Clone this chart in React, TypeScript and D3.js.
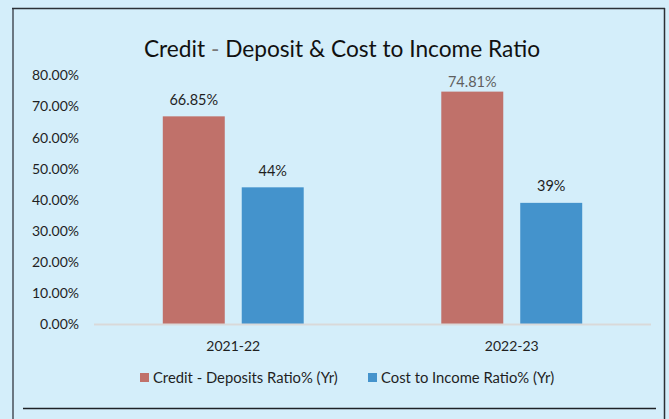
import React, { useEffect, useRef } from 'react';
import * as d3 from 'd3';

const categories = ['2021-22', '2022-23'];
const seriesNames = ['Credit - Deposits Ratio% (Yr)', 'Cost to Income Ratio% (Yr)'];
const creditDeposit = [0.6685, 0.7481];
const costIncome = [0.44, 0.39];
const valueLabels = [
  ['66.85%', '74.81%'],
  ['44%', '39%'],
];
const yTicks = [0, 0.1, 0.2, 0.3, 0.4, 0.5, 0.6, 0.7, 0.8];

const colors = ['#c0716a', '#4493cc'];
const labelColors = [
  ['#1f1f1f', '#5f5f5f'],
  ['#1f1f1f', '#1f1f1f'],
];

const FONT = 'Lato, "Open Sans", sans-serif';

const App: React.FC = () => {
  const svgRef = useRef<SVGSVGElement>(null);

  useEffect(() => {
    if (!svgRef.current) return;
    const width = 669;
    const height = 419;
    const plot = { left: 94, right: 651, top: 75.5, bottom: 324 };

    const svg = d3.select(svgRef.current).attr('width', width).attr('height', height);
    svg.selectAll('*').remove();

    svg.append('rect').attr('width', width).attr('height', height).attr('fill', '#d4eefa');

    // frame
    svg.append('line').attr('x1', 13).attr('x2', 13).attr('y1', 8).attr('y2', height)
      .attr('stroke', '#6b7781').attr('stroke-width', 2);
    svg.append('line').attr('x1', 12).attr('x2', 665).attr('y1', 8.5).attr('y2', 8.5)
      .attr('stroke', '#2b3036').attr('stroke-width', 1.5);
    svg.append('line').attr('x1', 664.5).attr('x2', 664.5).attr('y1', 8).attr('y2', height)
      .attr('stroke', '#2b3036').attr('stroke-width', 1.5);
    svg.append('line').attr('x1', 23).attr('x2', 656).attr('y1', 408.5).attr('y2', 408.5)
      .attr('stroke', '#1e2226').attr('stroke-width', 1.3);

    // title
    const title = svg.append('text').attr('x', 342).attr('y', 57).attr('text-anchor', 'middle')
      .attr('font-family', FONT).attr('font-size', 22.7).attr('fill', '#111');
    title.append('tspan').text('Credit ');
    title.append('tspan').attr('fill', '#7a7a7a').text('-');
    title.append('tspan').text(' Deposit & Cost to Income Ratio');

    const y = d3.scaleLinear().domain([0, 0.8]).range([plot.bottom, plot.top]);
    const x0 = d3.scaleBand().domain(categories).range([plot.left, plot.right])
      .paddingInner(0.494).paddingOuter(0.247);
    const x1 = d3.scaleBand().domain(['0', '1']).range([0, x0.bandwidth()])
      .paddingInner(0.215).paddingOuter(0);

    // y tick labels
    svg.append('g').selectAll('text').data(yTicks).enter().append('text')
      .attr('x', 79).attr('y', (d) => y(d)).attr('dy', '0.35em').attr('text-anchor', 'end')
      .attr('font-family', FONT).attr('font-size', 14).attr('fill', '#1f1f1f')
      .text((d) => d3.format('.2%')(d));

    const series = [creditDeposit, costIncome];
    series.forEach((vals, si) => {
      const g = svg.append('g');
      g.selectAll('rect').data(vals).enter().append('rect')
        .attr('x', (_, i) => (x0(categories[i]) ?? 0) + (x1(String(si)) ?? 0))
        .attr('y', (d) => y(d))
        .attr('width', x1.bandwidth())
        .attr('height', (d) => y(0) - y(d))
        .attr('fill', colors[si]);
      g.selectAll('text').data(vals).enter().append('text')
        .attr('x', (_, i) => (x0(categories[i]) ?? 0) + (x1(String(si)) ?? 0) + x1.bandwidth() / 2)
        .attr('y', (d) => Math.max(y(d) - 16.5, 82))
        .attr('dy', '0.35em')
        .attr('text-anchor', 'middle')
        .attr('font-family', FONT).attr('font-size', 14.5)
        .attr('fill', (_, i) => labelColors[si][i])
        .text((_, i) => valueLabels[si][i]);
    });

    // x axis line
    svg.append('line').attr('x1', plot.left).attr('x2', plot.right)
      .attr('y1', y(0) + 0.5).attr('y2', y(0) + 0.5)
      .attr('stroke', '#d9d9d9').attr('stroke-width', 2);

    svg.append('g').selectAll('text').data(categories).enter().append('text')
      .attr('x', (d) => (x0(d) ?? 0) + x0.bandwidth() / 2)
      .attr('y', 346).attr('dy', '0.35em').attr('text-anchor', 'middle')
      .attr('font-family', FONT).attr('font-size', 14).attr('fill', '#1f1f1f')
      .text((d) => d);

    // legend
    const legendX = [140, 368];
    seriesNames.forEach((name, i) => {
      const lg = svg.append('g').attr('transform', `translate(${legendX[i]},373)`);
      lg.append('rect').attr('width', 9).attr('height', 9).attr('fill', colors[i]);
      lg.append('text').attr('x', 13).attr('y', 4.5).attr('dy', '0.35em')
        .attr('font-family', FONT).attr('font-size', 14.8).attr('fill', '#1f1f1f')
        .text(name);
    });
  }, []);

  return (
    <div style={{ position: 'absolute', left: 0, top: 0 }}>
      <svg ref={svgRef} style={{ display: 'block' }}></svg>
    </div>
  );
};

export default App;
